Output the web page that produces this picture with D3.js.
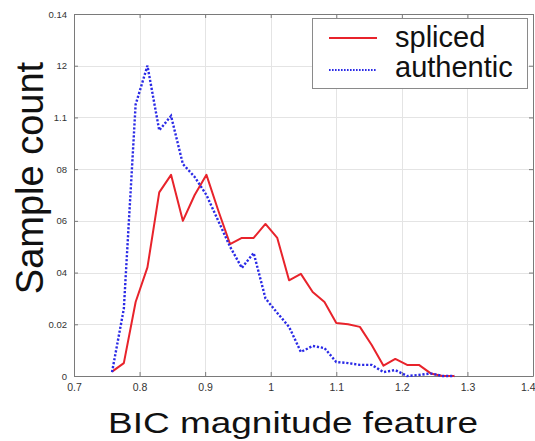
<!DOCTYPE html>
<html>
<head>
<meta charset="utf-8">
<script src="https://cdn.jsdelivr.net/npm/d3@7"></script>
<style>
  html, body { margin: 0; padding: 0; background: #fff; }
  svg { display: block; }
  text { font-family: "Liberation Sans", Arial, sans-serif; }
</style>
</head>
<body>
<svg id="chart" width="535" height="441"></svg>
<script>
// ---- data ----
const binCenters = [0.758, 0.776, 0.794, 0.812, 0.830, 0.848, 0.866, 0.884, 0.902, 0.920,
                    0.938, 0.956, 0.974, 0.992, 1.010, 1.028, 1.046, 1.064, 1.082, 1.100,
                    1.118, 1.136, 1.154, 1.172, 1.190, 1.208, 1.226, 1.244, 1.262, 1.280];
const spliced   = [0.0017, 0.005, 0.0286, 0.042, 0.071, 0.0778, 0.060, 0.070, 0.0778, 0.064,
                   0.051, 0.0534, 0.0534, 0.0588, 0.0534, 0.037, 0.0395, 0.0325, 0.0286, 0.0205,
                   0.020, 0.019, 0.012, 0.004, 0.0066, 0.0043, 0.0043, 0.001, 0, 0];
const authentic = [0.0015, 0.026, 0.105, 0.120, 0.095, 0.1006, 0.082, 0.077, 0.070, 0.060,
                   0.050, 0.0418, 0.0476, 0.030, 0.0244, 0.019, 0.0093, 0.0116, 0.0108, 0.0054,
                   0.005, 0.0043, 0.0043, 0.0015, 0.0023, 0, 0.0004, 0.001, 0, 0];
const xTicks = [0.7, 0.8, 0.9, 1.0, 1.1, 1.2, 1.3, 1.4];
const xTickLabels = ["0.7", "0.8", "0.9", "1", "1.1", "1.2", "1.3", "1.4"];
const yTicks = [0, 0.02, 0.04, 0.06, 0.08, 0.10, 0.12, 0.14];
const yTickLabels = ["0", "0.02", "04", "06", "08", "1.1", "12", "0.14"];
const seriesNames = ["spliced", "authentic"];
const xTitle = "BIC magnitude feature";
const yTitle = "Sample count";

// ---- layout ----
const svg = d3.select("#chart");
const x = d3.scaleLinear().domain([0.7, 1.4]).range([74, 533]);
const y = d3.scaleLinear().domain([0, 0.14]).range([376, 14]);

// grid
const grid = svg.append("g").attr("stroke", "#e4e4e4").attr("stroke-width", 1);
grid.selectAll("line.gx").data(xTicks.slice(1, -1)).join("line")
  .attr("x1", d => Math.round(x(d)) + 0.5).attr("x2", d => Math.round(x(d)) + 0.5)
  .attr("y1", y(0.14)).attr("y2", y(0));
grid.selectAll("line.gy").data(yTicks.slice(1, -1)).join("line")
  .attr("y1", d => Math.round(y(d)) + 0.5).attr("y2", d => Math.round(y(d)) + 0.5)
  .attr("x1", x(0.7)).attr("x2", x(1.4));

// axes (MATLAB style: inward ticks, box)
const xAxis = d3.axisBottom(x).tickValues(xTicks).tickSizeInner(-4).tickSizeOuter(0)
  .tickPadding(8).tickFormat((d, i) => xTickLabels[i]);
const yAxis = d3.axisLeft(y).tickValues(yTicks).tickSizeInner(-4).tickSizeOuter(0)
  .tickPadding(7).tickFormat((d, i) => yTickLabels[i]);
const gx = svg.append("g").attr("transform", "translate(0,376)").call(xAxis);
const gy = svg.append("g").attr("transform", "translate(74,0)").call(yAxis);
// mirrored ticks on top/right
const gxt = svg.append("g").attr("transform", "translate(0,14)")
  .call(d3.axisTop(x).tickValues(xTicks).tickSizeInner(-4).tickSizeOuter(0).tickFormat(""));
const gyr = svg.append("g").attr("transform", "translate(533,0)")
  .call(d3.axisRight(y).tickValues(yTicks).tickSizeInner(-4).tickSizeOuter(0).tickFormat(""));
[gx, gy, gxt, gyr].forEach(g => {
  g.select(".domain").attr("stroke", "#7a7a7a");
  g.selectAll(".tick line").attr("stroke", "#7a7a7a");
  g.selectAll(".tick text").attr("fill", "#333")
    .attr("font-family", "Liberation Sans, Arial, sans-serif");
});
gx.selectAll(".tick text").attr("font-size", 10.5)
  .filter((d, i) => i === xTicks.length - 1).attr("text-anchor", "end").attr("dx", "2");
gy.selectAll(".tick text").attr("font-size", 9.5);

// lines
const line = d3.line().x((d, i) => x(binCenters[i])).y(d => y(d));
svg.append("path").datum(spliced)
  .attr("fill", "none").attr("stroke", "#e8232b").attr("stroke-width", 2)
  .attr("stroke-linejoin", "round").attr("d", line);
svg.append("path").datum(authentic)
  .attr("fill", "none").attr("stroke", "#2a2ae6").attr("stroke-width", 2.4)
  .attr("stroke-dasharray", "2.2,1.8").attr("d", line);

// legend
const lg = svg.append("g");
lg.append("rect").attr("x", 312.5).attr("y", 18.5).attr("width", 215).attr("height", 70)
  .attr("fill", "#fff").attr("stroke", "#8a8a8a").attr("stroke-width", 1);
lg.append("line").attr("x1", 329).attr("x2", 377).attr("y1", 38).attr("y2", 38)
  .attr("stroke", "#e8232b").attr("stroke-width", 2);
lg.append("line").attr("x1", 329).attr("x2", 377).attr("y1", 70).attr("y2", 70)
  .attr("stroke", "#2a2ae6").attr("stroke-width", 2).attr("stroke-dasharray", "1.6,1.4");
lg.append("text").attr("x", 395).attr("y", 47).attr("font-size", 29).attr("fill", "#111")
  .text(seriesNames[0]);
lg.append("text").attr("x", 395).attr("y", 77).attr("font-size", 29).attr("fill", "#111")
  .text(seriesNames[1]);

// titles
svg.append("text").attr("x", 108).attr("y", 433).attr("font-size", 30)
  .attr("textLength", 370).attr("lengthAdjust", "spacingAndGlyphs").attr("fill", "#111")
  .text(xTitle);
svg.append("text").attr("transform", "translate(43,178) rotate(-90)")
  .attr("text-anchor", "middle").attr("font-size", 38).attr("fill", "#111")
  .text(yTitle);
</script>
</body>
</html>
